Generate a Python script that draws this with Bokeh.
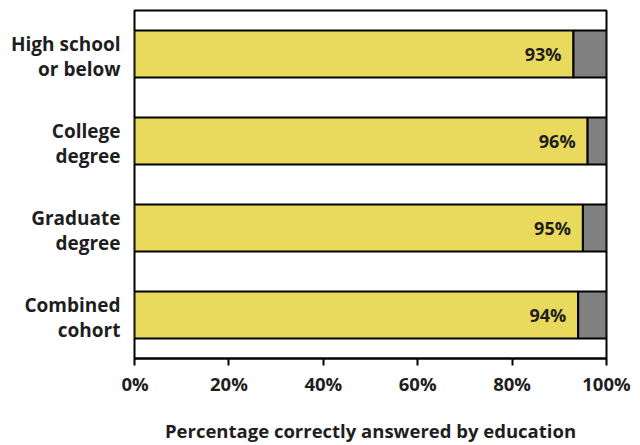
from bokeh.plotting import figure
from bokeh.layouts import row
from bokeh.models import FactorRange, Range1d, FixedTicker, PrintfTickFormatter, ColumnDataSource
from bokeh.core.properties import value
from bokeh.embed import file_html
from bokeh.resources import INLINE

categories = ["High school\nor below", "College\ndegree", "Graduate\ndegree", "Combined\ncohort"]
correct = [93, 96, 95, 94]
incorrect = [100 - c for c in correct]
labels = [f"{c}%" for c in correct]
x_ticks = [0, 20, 40, 60, 80, 100]

FONT = "Open Sans"
TXT = "#1e1e1e"
TOP, BOTTOM = 10, 83
LEFT_W = 121

src = ColumnDataSource(dict(cat=categories, correct=correct,
                            total=[c + i for c, i in zip(correct, incorrect)],
                            zero=[0] * len(categories), label=labels,
                            edge=[1] * len(categories),
                            line1=[c.split("\n")[0] for c in categories],
                            line2=[c.split("\n")[1] for c in categories]))

y_range = FactorRange(*reversed(categories))

# left panel holding the category labels
lp = figure(width=LEFT_W, height=445, output_backend="svg", toolbar_location=None,
            y_range=y_range, x_range=Range1d(0, 1),
            min_border_left=0, min_border_right=0, min_border_top=TOP, min_border_bottom=BOTTOM)
lp.axis.visible = False
lp.grid.visible = False
lp.outline_line_color = None
for col, off in (("line1", -10), ("line2", 15)):
    lp.text(x="edge", y="cat", text=col, source=src, x_offset=-1, y_offset=off,
            text_align="right", text_baseline="middle", text_font=value(FONT),
            text_font_style="bold", text_font_size="19px", text_color=TXT)

p = figure(width=640 - LEFT_W, height=445, output_backend="svg", toolbar_location=None,
           y_range=y_range, x_range=Range1d(0, 100),
           min_border_left=134 - LEFT_W, min_border_right=34, min_border_top=TOP, min_border_bottom=BOTTOM)

p.hbar(y="cat", left="zero", right="correct", height=0.54, source=src,
       fill_color="#E9DA5D", line_color="black", line_width=2)
p.hbar(y="cat", left="correct", right="total", height=0.54, source=src,
       fill_color="#808080", line_color="black", line_width=2)
p.text(x="correct", y="cat", text="label", source=src, x_offset=-12,
       text_align="right", text_baseline="middle", text_font=value(FONT),
       text_font_style="bold", text_font_size="18px", text_color=TXT)

p.outline_line_color = "black"
p.outline_line_width = 2
p.grid.visible = False
p.background_fill_color = "white"
p.yaxis.visible = False

xa = p.xaxis[0]
xa.ticker = FixedTicker(ticks=x_ticks)
xa.formatter = PrintfTickFormatter(format="%d%%")
xa.axis_line_color = "black"
xa.axis_line_width = 2
xa.major_tick_line_color = "black"
xa.major_tick_line_width = 2
xa.major_tick_in = 0
xa.major_tick_out = 7
xa.minor_tick_line_color = None
xa.major_label_text_font = FONT
xa.major_label_text_font_style = "bold"
xa.major_label_text_font_size = "18.5px"
xa.major_label_text_color = TXT
xa.major_label_standoff = 5
xa.axis_label = "Percentage correctly answered by education"
xa.axis_label_text_font = FONT
xa.axis_label_text_font_style = "bold"
xa.axis_label_text_font_size = "18.5px"
xa.axis_label_text_color = TXT
xa.axis_label_standoff = 19

layout = row(lp, p, spacing=0)
open("out.html", "w").write(file_html(layout, INLINE))
